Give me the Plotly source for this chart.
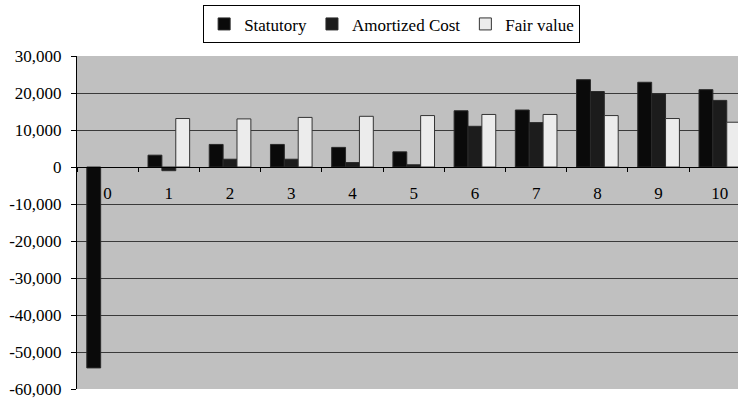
import plotly.graph_objects as go

# Projection years and the three valuation bases
years = ["0", "1", "2", "3", "4", "5", "6", "7", "8", "9", "10"]
statutory = [-54300, 3200, 6100, 6100, 5300, 4100, 15200, 15400, 23600, 22900, 20900]
amortized_cost = [None, -1000, 2100, 2100, 1200, 600, 11000, 12000, 20400, 19800, 18000]
fair_value = [None, 13100, 13000, 13400, 13700, 13900, 14200, 14200, 13900, 13100, 12100]

y_ticks = [30000, 20000, 10000, 0, -10000, -20000, -30000, -40000, -50000, -60000]
y_labels = ["30,000", "20,000", "10,000", "0", "-10,000", "-20,000",
            "-30,000", "-40,000", "-50,000", "-60,000"]

font_family = "Liberation Serif"
edge = dict(color="#2a2a2a", width=1)

fig = go.Figure()
fig.add_trace(go.Bar(name="Statutory", x=years, y=statutory,
                     marker=dict(color="#0a0a0a", line=edge)))
fig.add_trace(go.Bar(name="Amortized Cost", x=years, y=amortized_cost,
                     marker=dict(color="#1c1c1c", line=edge)))
fig.add_trace(go.Bar(name="Fair value", x=years, y=fair_value,
                     marker=dict(color="#ececec", line=dict(color="#333333", width=1))))

fig.update_layout(
    width=738, height=401,
    margin=dict(l=77, r=0, t=56, b=12),
    paper_bgcolor="white",
    plot_bgcolor="#c0c0c0",
    barmode="group",
    bargap=0.32,
    bargroupgap=0,
    font=dict(family=font_family, size=17, color="black"),
    showlegend=True,
    legend=dict(
        orientation="h",
        x=0.476, xanchor="center",
        y=1.152, yanchor="top",
        bordercolor="black", borderwidth=1,
        bgcolor="white",
        font=dict(family=font_family, size=17),
        itemwidth=30,
        tracegroupgap=0,
    ),
    xaxis=dict(
        type="category",
        range=[-0.5, 10.297],
        anchor="free",
        position=2 / 3,
        showline=True, linecolor="black", linewidth=1,
        ticks="outside", tickson="boundaries", ticklen=4,
        tickcolor="black",
        ticklabelstandoff=11,
        showgrid=False,
        zeroline=False,
        tickfont=dict(family=font_family, size=17),
    ),
    yaxis=dict(
        range=[-60000, 30000],
        tickvals=y_ticks,
        ticktext=y_labels,
        showline=True, linecolor="black", linewidth=1,
        ticks="outside", ticklen=5, tickcolor="black",
        ticklabelstandoff=6,
        showgrid=True, gridcolor="#3a3a3a", gridwidth=1,
        zeroline=False,
        tickfont=dict(family=font_family, size=17),
    ),
)

fig.write_html("out.html")
